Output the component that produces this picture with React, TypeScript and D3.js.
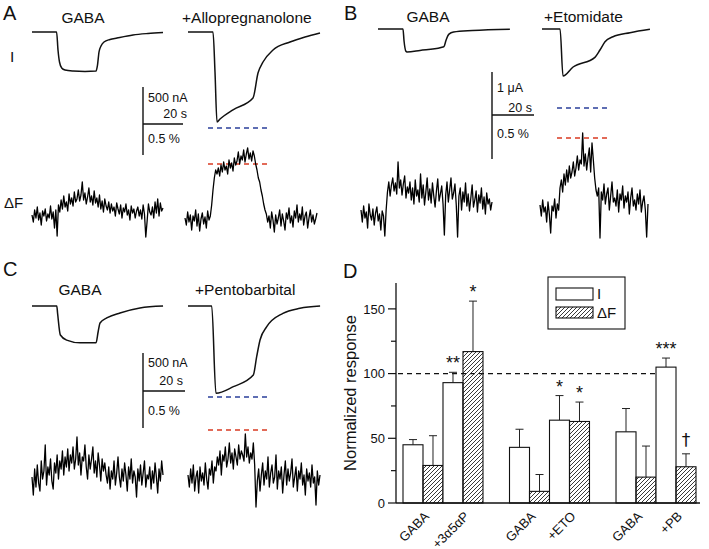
import React from 'react';
import * as d3 from 'd3';

const FONT = 'Arial, "Liberation Sans", Helvetica, sans-serif';

// ---------------- Current traces (time in s, current in nA) ----------------
const aGabaTime = [0, 12.3, 13, 13.75, 14.85, 16.5, 20.5, 26.5, 32, 32.75, 33.5, 34.5, 36, 39, 42.5, 50.5, 58, 65.5];
const aGabaCurrent = [0, 0, -243, -405, -486, -513, -527, -533, -527, -446, -270, -189, -135, -101, -81, -40, -20, -7];
const aAlloTime = [0, 12.5, 13.5, 14.5, 16, 22.5, 32.5, 35, 37.5, 42.5, 51, 58.5, 66];
const aAlloCurrent = [0, 0, -540, -1215, -1175, -1050, -891, -553, -405, -243, -135, -67, -13];

const bGabaTime = [0, 11.9, 12.4, 13.3, 13.8, 20, 30, 31.4, 32.4, 33.8, 36, 45, 62.8];
const bGabaCurrent = [0, 0, -280, -520, -536, -500, -430, -410, -260, -120, -70, -35, -5];
const bEtoTime = [0, 8.6, 10, 14.8, 25.2, 27.6, 30, 33.8, 41.9, 51.4];
const bEtoCurrent = [0, 0, -1095, -885, -660, -490, -296, -180, -86, -7];

const cGabaTime = [0, 11.8, 12.2, 13.5, 16.5, 22.9, 30.5, 31.5, 32.4, 35.6, 41.9, 51.4, 62.4];
const cGabaCurrent = [0, 0, -100, -383, -450, -486, -486, -340, -224, -158, -92, -26, 0];
const cPentoTime = [0, 11.3, 13.3, 21.6, 31.1, 32.7, 34.3, 37.5, 45.2, 53.3, 62.9];
const cPentoCurrent = [0, 0, -1152, -1065, -911, -669, -449, -273, -97, -30, 0];

// ---------------- Fluorescence traces (ΔF, arbitrary units) ----------------
const aGabaDF = [
  25, 18, 30, 22, 33, 20, 27, 15, 29, 24, 31, 19, 26, 22, 34, 21, 28, 12, 30, 4,
  35, 28, 40, 31, 44, 33, 38, 29, 46, 36, 42, 34, 48, 38, 41, 50, 39, 45, 58, 40,
  47, 36, 43, 52, 38, 44, 35, 49, 37, 42, 33, 45, 31, 39, 28, 41, 34, 30, 38, 27,
  36, 29, 33, 24, 37, 31, 26, 35, 22, 32, 28, 36, 25, 30, 20, 34, 27, 31, 22, 29,
  33, 24, 30, 21, 35, 26, 3, 19, 36, 28, 25, 33, 22, 38, 27, 41, 24, 37, 29, 32,
];
const aAlloDF = [
  22, 15, 28, 18, 25, 10, 24, 19, 30, 14, 26, 9, 21, 27, 16, 23, 12, 29, 20, 24,
  35, 50, 62, 70, 66,
  72, 64, 75, 68, 78, 70, 74, 66, 80, 72, 77, 69, 82, 75, 79, 88, 76, 84, 80, 90, 78, 86, 92, 81, 87, 79, 89, 84,
  76, 70, 62, 58, 50, 44, 36, 30, 26,
  18, 24, 12, 28, 20, 8, 25, 16, 22, 30, 14, 26, 19, 10, 27, 21, 32, 17, 24, 13, 29, 22, 35, 18, 26, 20, 33, 15,
  24, 28, 12, 22, 30, 18, 25, 16, 21, 27,
];
const bGabaDF = [
  30, 18, 34, 22, 28, 12, 36, 25, 20, 31, 15, 27, 33, 19, 26, 10, 29, 24, 4, 30,
  48, 58, 44, 55, 62, 49, 57, 46, 78, 52, 60, 45, 56, 64, 42, 53,
  47, 58, 40, 52, 36, 60, 44, 50, 38, 66, 42, 55, 35, 48, 62, 40, 51, 37, 57, 44, 33, 49, 61, 39, 46, 54, 36,
  5,
  45, 58, 38, 50, 62, 41, 47, 56, 35,
  3,
  44, 52, 30, 48, 38, 57, 34, 46, 29, 42, 55, 33, 40, 49, 28, 45, 37, 52, 31, 43, 26, 47, 36, 41, 30, 38,
];
const bEtoDF = [
  35, 24, 40, 28, 33, 18, 38, 26, 7, 34, 29, 41, 22, 36, 30,
  52, 60, 48, 66, 55, 70, 58, 74, 62, 68, 78, 64, 72, 84, 70, 80, 76, 107, 74, 86, 70, 82, 92, 68, 97,
  80, 62, 50, 44, 52,
  2,
  48, 40, 56, 36, 46, 52, 30, 44, 58, 38, 42, 34, 50, 28, 46, 40, 54, 32, 44, 38, 48, 26, 42, 52, 34, 40, 30, 46,
  36, 50, 28, 38, 44, 30, 3, 36,
];
const cGabaDF = [
  28, 10, 36, 18, 40, 22, 14, 44, 26, 34, 60, 20, 38, 30, 46, 24, 16, 42, 32, 50, 26, 44, 36, 54, 30,
  48, 38, 56, 34, 50, 42, 58, 36, 46, 68, 40, 52, 30, 48, 44, 60, 38, 26, 50, 36, 46, 58, 32, 44, 28, 52, 40, 24, 46, 34, 42,
  30, 22, 38, 16, 34, 26, 44, 20, 32, 48, 28, 18, 36, 24, 42, 30, 14, 38, 26, 46, 22, 34, 28, 8, 36, 24, 40, 20, 32, 44,
  18, 30, 26, 38, 16, 34, 22, 42, 28, 12, 36, 24, 44, 30,
];
const cPentoDF = [
  30, 18, 36, 22, 40, 14, 28, 34, 12, 38, 24, 32, 20, 42, 26, 16, 36, 30, 44, 22, 38,
  34, 48, 40, 54, 30, 50, 44, 58, 38, 46, 62, 42, 52, 36, 56, 48, 40, 60, 46, 54, 50, 44, 71, 48, 58, 42, 52, 46, 62, 40,
  -2,
  24, 36, 14, 30, 42, 20, 34, 26, 48, 18, 32, 40, 22, 28, 50, 16, 34, 26, 38, 12, 30, 44, 20, 36, 24, 32, 46, 18,
  28, 38, 14, 34, 26, 42, 20, 30, 10, 36, 24, 32, 18, 40, 22, 28, 0, 34, 20, 30,
];

// ---------------- Panel D data ----------------
const dGroups = ['allo', 'eto', 'pb'];
const dConditions = ['control', 'drug'];
const dMeasures = ['I', 'ΔF'];
const dXLabels = ['GABA', '+3α5αP', 'GABA', '+ETO', 'GABA', '+PB'];
const iMeans = [45, 93, 43, 64, 55, 105];
const iErrors = [4, 8, 14, 19, 18, 7];
const dfMeans = [29, 117, 9, 63, 20, 28];
const dfErrors = [23, 39, 13, 15, 24, 10];
const iMarks = ['', '**', '', '*', '', '***'];
const dfMarks = ['', '*', '', '*', '', '†'];
const yMajorTicks = [0, 50, 100, 150];
const yMinorTicks = [25, 75, 125];

// ---------------- helpers ----------------
function CurrentTrace(props: { time: number[]; current: number[]; x0: number; y0: number; pxPerSec: number; nAPerPx: number }) {
  const { time, current, x0, y0, pxPerSec, nAPerPx } = props;
  const x = d3.scaleLinear().domain([0, 1]).range([x0, x0 + pxPerSec]);
  const y = d3.scaleLinear().domain([0, -1000]).range([y0, y0 + 1000 / nAPerPx]);
  const line = d3
    .line<number>()
    .x((_, i) => x(time[i]))
    .y((d) => y(d))
    .curve(d3.curveMonotoneX);
  return <path d={line(current) || ''} fill="none" stroke="#111" strokeWidth={1.5} />;
}

function FluorTrace(props: { values: number[]; x0: number; x1: number; bottom: number }) {
  const { values, x0, x1, bottom } = props;
  const x = d3.scaleLinear().domain([0, values.length - 1]).range([x0, x1]);
  const y = d3.scaleLinear().domain([0, 100]).range([bottom, bottom - 100]);
  const line = d3
    .line<number>()
    .x((_, i) => x(i))
    .y((d) => y(d));
  return <path d={line(values) || ''} fill="none" stroke="#000" strokeWidth={1.3} strokeLinejoin="round" />;
}

function Dashed(props: { x1: number; x2: number; y: number; color: string }) {
  return <line x1={props.x1} x2={props.x2} y1={props.y} y2={props.y} stroke={props.color} strokeWidth={1.4} strokeDasharray="5,4" />;
}

function ScaleBar(props: { x: number; yTop: number; yMid: number; yBot: number; xEnd: number; t1: string; t1y: number; t2y: number; t2x: number; t3y: number }) {
  const p = props;
  return (
    <g fontFamily={FONT} fontSize={12.5} fill="#111">
      <line x1={p.x} x2={p.x} y1={p.yTop} y2={p.yBot} stroke="#111" strokeWidth={1.4} />
      <line x1={p.x} x2={p.xEnd} y1={p.yMid} y2={p.yMid} stroke="#111" strokeWidth={1.4} />
      <text x={p.x + 5} y={p.t1y}>{p.t1}</text>
      <text x={p.t2x} y={p.t2y} textAnchor="end">20 s</text>
      <text x={p.x + 5} y={p.t3y}>0.5 %</text>
    </g>
  );
}

function PanelD() {
  const y = d3.scaleLinear().domain([0, 170]).range([503, 283]);
  const gx = d3.scaleBand<string>().domain(dGroups).range([403, 696]).paddingInner(0.249);
  const cx = d3.scaleBand<string>().domain(dConditions).range([0, gx.bandwidth()]);
  const mx = d3.scaleBand<string>().domain(dMeasures).range([0, cx.bandwidth()]);
  const axisX0 = 396;
  const axisX1 = 700;

  const items: { left: number; mean: number; err: number; measure: string; mark: string }[] = [];
  dGroups.forEach((g, gi) => {
    dConditions.forEach((c, ci) => {
      const k = gi * 2 + ci;
      const base = (gx(g) || 0) + (cx(c) || 0);
      items.push({ left: base + (mx('I') || 0), mean: iMeans[k], err: iErrors[k], measure: 'I', mark: iMarks[k] });
      items.push({ left: base + (mx('ΔF') || 0), mean: dfMeans[k], err: dfErrors[k], measure: 'ΔF', mark: dfMarks[k] });
    });
  });
  const bw = mx.bandwidth();

  return (
    <g fontFamily={FONT} fill="#111">
      <text x={343} y={278} fontSize={20}>D</text>
      <line x1={398} x2={663} y1={y(100)} y2={y(100)} stroke="#111" strokeWidth={1.2} strokeDasharray="5,4" />
      {items.map((it, i) => {
        const cxm = it.left + bw / 2;
        const top = y(it.mean + it.err);
        return (
          <g key={i}>
            <line x1={cxm} x2={cxm} y1={y(it.mean)} y2={top} stroke="#222" strokeWidth={1} />
            <line x1={cxm - 4} x2={cxm + 4} y1={top} y2={top} stroke="#222" strokeWidth={1} />
            <rect
              x={it.left}
              y={y(it.mean)}
              width={bw}
              height={y(0) - y(it.mean)}
              fill={it.measure === 'I' ? '#fff' : 'url(#hatch)'}
              stroke="#111"
              strokeWidth={1.1}
            />
            {it.mark && (
              <text
                x={cxm}
                y={top - (it.mark === '†' ? 8 : 3)}
                textAnchor="middle"
                fontSize={it.mark === '†' ? 17 : 18}
                fill="#111"
                fontFamily={it.mark === '†' ? '"DejaVu Sans", Arial, sans-serif' : FONT}
              >
                {it.mark}
              </text>
            )}
          </g>
        );
      })}
      <line x1={axisX0} x2={axisX0} y1={y(170)} y2={y(0)} stroke="#111" strokeWidth={1.3} />
      <line x1={axisX0} x2={axisX1} y1={y(0)} y2={y(0)} stroke="#111" strokeWidth={1.3} />
      {yMajorTicks.map((t) => (
        <g key={'M' + t}>
          <line x1={axisX0 - 8} x2={axisX0} y1={y(t)} y2={y(t)} stroke="#111" strokeWidth={1.2} />
          <text x={axisX0 - 11} y={y(t)} dy="0.36em" textAnchor="end" fontSize={13}>{t}</text>
        </g>
      ))}
      {yMinorTicks.map((t) => (
        <line key={'m' + t} x1={axisX0 - 5} x2={axisX0} y1={y(t)} y2={y(t)} stroke="#111" strokeWidth={1.2} />
      ))}
      <text transform={`translate(356,${y(85)}) rotate(-90)`} textAnchor="middle" fontSize={16.5}>Normalized response</text>
      {dGroups.map((g, gi) =>
        dConditions.map((c, ci) => {
          const center = (gx(g) || 0) + (cx(c) || 0) + cx.bandwidth() / 2;
          return (
            <text
              key={g + c}
              transform={`translate(${center + 7},517) rotate(-45)`}
              textAnchor="end"
              fontSize={13}
            >
              {dXLabels[gi * 2 + ci]}
            </text>
          );
        })
      )}
      <rect x={548} y={277} width={77} height={52} fill="#fff" stroke="#111" strokeWidth={1.1} />
      <rect x={556} y={288} width={37} height={12} fill="#fff" stroke="#111" strokeWidth={1.1} />
      <text x={597} y={299} fontSize={15}>I</text>
      <rect x={556} y={307} width={37} height={11} fill="url(#hatch)" stroke="#111" strokeWidth={1.1} />
      <text x={597} y={318} fontSize={15}>ΔF</text>
    </g>
  );
}

export default function App() {
  return (
    <svg
      width={709}
      height={549}
      viewBox="0 0 709 549"
      style={{ position: 'absolute', left: 0, top: 0, background: '#fff' }}
    >
      <defs>
        <pattern id="hatch" patternUnits="userSpaceOnUse" width={4} height={4}>
          <path d="M-1,1 L1,-1 M0,4 L4,0 M3,5 L5,3" stroke="#222" strokeWidth={0.9} />
        </pattern>
      </defs>
      <rect x={0} y={0} width={709} height={549} fill="#fff" />

      {/* ---------- Panel A ---------- */}
      <g fontFamily={FONT} fill="#111">
        <text x={3} y={20} fontSize={20}>A</text>
        <text x={83} y={23} fontSize={15.5} textAnchor="middle">GABA</text>
        <text x={182} y={23} fontSize={15.5}>+Allopregnanolone</text>
        <text x={10} y={62} fontSize={15.5}>I</text>
        <text x={4} y={208} fontSize={15}>ΔF</text>
      </g>
      <CurrentTrace time={aGabaTime} current={aGabaCurrent} x0={32} y0={32} pxPerSec={2} nAPerPx={13.5} />
      <CurrentTrace time={aAlloTime} current={aAlloCurrent} x0={188} y0={32} pxPerSec={2} nAPerPx={13.5} />
      <ScaleBar x={143} yTop={87} yMid={124} yBot={155} xEnd={183} t1="500 nA" t1y={102} t2x={187} t2y={118} t3y={143} />
      <Dashed x1={208} x2={268} y={128} color="#2a3f9a" />
      <Dashed x1={208} x2={268} y={164} color="#d93a22" />
      <FluorTrace values={aGabaDF} x0={32} x1={163} bottom={240} />
      <FluorTrace values={aAlloDF} x0={185} x1={317} bottom={240} />

      {/* ---------- Panel B ---------- */}
      <g fontFamily={FONT} fill="#111">
        <text x={344} y={20} fontSize={20}>B</text>
        <text x={428} y={22} fontSize={15.5} textAnchor="middle">GABA</text>
        <text x={544} y={22} fontSize={15.5}>+Etomidate</text>
      </g>
      <CurrentTrace time={bGabaTime} current={bGabaCurrent} x0={378} y0={29} pxPerSec={2.1} nAPerPx={23.3} />
      <CurrentTrace time={bEtoTime} current={bEtoCurrent} x0={542} y0={29} pxPerSec={2.1} nAPerPx={23.3} />
      <ScaleBar x={492} yTop={72} yMid={115} yBot={159} xEnd={534} t1="1 μA" t1y={92} t2x={532} t2y={112} t3y={138} />
      <Dashed x1={557} x2={608} y={108} color="#2a3f9a" />
      <Dashed x1={557} x2={608} y={138} color="#d93a22" />
      <FluorTrace values={bGabaDF} x0={361} x1={492} bottom={240} />
      <FluorTrace values={bEtoDF} x0={540} x1={648} bottom={240} />

      {/* ---------- Panel C ---------- */}
      <g fontFamily={FONT} fill="#111">
        <text x={3} y={276} fontSize={20}>C</text>
        <text x={80} y={295} fontSize={15.5} textAnchor="middle">GABA</text>
        <text x={195} y={295} fontSize={15.5}>+Pentobarbital</text>
      </g>
      <CurrentTrace time={cGabaTime} current={cGabaCurrent} x0={32} y0={306} pxPerSec={2.1} nAPerPx={13.2} />
      <CurrentTrace time={cPentoTime} current={cPentoCurrent} x0={188} y0={306} pxPerSec={2.1} nAPerPx={13.2} />
      <ScaleBar x={143} yTop={353} yMid={391} yBot={428} xEnd={185} t1="500 nA" t1y={367} t2x={183} t2y={385} t3y={415} />
      <Dashed x1={208} x2={268} y={397} color="#2a3f9a" />
      <Dashed x1={208} x2={268} y={430} color="#d93a22" />
      <FluorTrace values={cGabaDF} x0={32} x1={163} bottom={505} />
      <FluorTrace values={cPentoDF} x0={188} x1={320} bottom={505} />

      {/* ---------- Panel D ---------- */}
      <PanelD />
    </svg>
  );
}
